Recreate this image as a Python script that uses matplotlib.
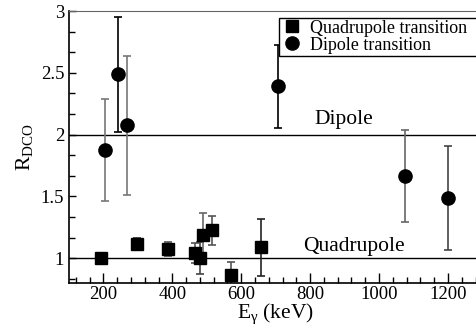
import matplotlib
matplotlib.use("Agg")
import matplotlib.pyplot as plt
from matplotlib.ticker import MultipleLocator, AutoMinorLocator, FormatStrFormatter

plt.rcParams['font.family'] = ['Liberation Serif', 'DejaVu Serif']
plt.rcParams['mathtext.fontset'] = 'custom'
plt.rcParams['mathtext.rm'] = 'Liberation Serif'

# Quadrupole transitions
quad_e = [192, 298, 387, 465, 479, 488, 516, 570, 657]
quad_r = [1.00, 1.115, 1.075, 1.04, 1.005, 1.19, 1.225, 0.868, 1.09]
quad_err = [0.03, 0.05, 0.06, 0.08, 0.13, 0.18, 0.115, 0.10, 0.23]
quad_ecol = ['#333333', '#333333', '#555555', '#555555', '#444444', '#666666', '#555555', '#555555', '#222222']

# Dipole transitions
dip_e = [204, 243, 268, 706, 1074, 1200]
dip_r = [1.875, 2.49, 2.075, 2.39, 1.665, 1.49]
dip_err = [0.41, 0.465, 0.565, 0.335, 0.375, 0.42]
dip_ecol = ['#777777', '#000000', '#777777', '#000000', '#666666', '#444444']

fig = plt.figure(figsize=(4.76, 3.29), dpi=100)
ax = fig.add_axes([69/476, 1-283/329, 413.4/476, 272/329])

ax.axhline(1.0, color='black', lw=1.0, zorder=1)
ax.axhline(2.0, color='black', lw=1.0, zorder=1)

for x, y, e, c in zip(quad_e, quad_r, quad_err, quad_ecol):
    ax.errorbar(x, y, yerr=e, fmt='none', ecolor=c, elinewidth=1.2, capsize=3, capthick=1.2, zorder=2)
for x, y, e, c in zip(dip_e, dip_r, dip_err, dip_ecol):
    ax.errorbar(x, y, yerr=e, fmt='none', ecolor=c, elinewidth=1.2, capsize=3, capthick=1.2, zorder=2)

ax.plot(quad_e, quad_r, 's', color='black', ms=8, ls='none', zorder=3, label='Quadrupole transition')
ax.plot(dip_e, dip_r, 'o', color='black', ms=9.5, ls='none', zorder=3, label='Dipole transition')

ax.text(811, 2.09, 'Dipole', fontsize=15.5)
ax.text(781, 1.06, 'Quadrupole', fontsize=15.5)

ax.set_xlim(100, 1300)
ax.set_ylim(0.8, 3.0)
ax.xaxis.set_major_locator(MultipleLocator(200))
ax.xaxis.set_minor_locator(MultipleLocator(40))
ax.yaxis.set_major_locator(MultipleLocator(0.5))
ax.yaxis.set_minor_locator(AutoMinorLocator(3))
ax.yaxis.set_major_formatter(FormatStrFormatter('%g'))
ax.tick_params(which='both', direction='in', labelsize=13.5, top=False, right=False)
ax.tick_params(which='major', length=7, width=1)
ax.tick_params(which='minor', length=4, width=1)
ax.tick_params(axis='y', which='major', length=5)
ax.tick_params(axis='y', which='minor', length=4)
ax.tick_params(axis='x', pad=2)

ax.spines['left'].set_linewidth(1.2)
ax.spines['bottom'].set_linewidth(1.2)
ax.spines['top'].set_color('#666666')

ax.set_xlabel(r'$\mathregular{E_{γ}}$ (keV)', fontsize=15.5, labelpad=-1)
ax.set_ylabel(r'$\mathregular{R_{DCO}}$', fontsize=15.5, labelpad=4)

leg = ax.legend(loc='upper left', bbox_to_anchor=(279/476, 1-62/329, 0.45, 44/329), bbox_transform=fig.transFigure,
                mode='expand', fontsize=13, frameon=True, fancybox=False, edgecolor='black', framealpha=1,
                handletextpad=0.4, handlelength=1.2, borderpad=0.1, labelspacing=0.0, borderaxespad=0)
leg.get_frame().set_linewidth(1.0)

fig.savefig('out.png', dpi=100)
